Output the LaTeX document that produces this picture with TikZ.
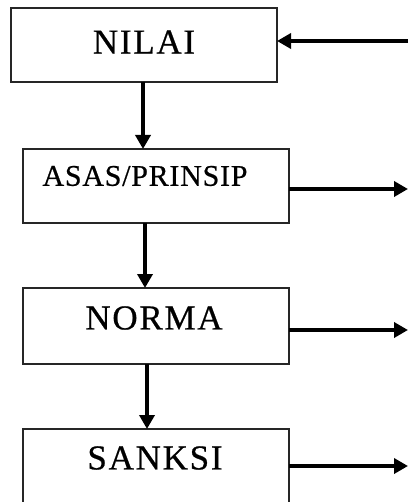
\documentclass[tikz,border=0pt]{standalone}
\usepackage{fontspec}
\setmainfont{Liberation Serif}
\usetikzlibrary{arrows.meta}
\begin{document}
\begin{tikzpicture}[x=1pt,y=-1pt,
  box/.style={draw=black!85,line width=1.1pt,minimum width=266pt,inner sep=0pt,outer sep=0pt},
  lbl/.style={inner sep=0pt,font=\fontsize{35}{37}\selectfont\addfontfeature{LetterSpace=5,FakeBold=0.6}},
  conn/.style={line width=3.6pt,-{Triangle[length=14pt,width=15pt]}}]
\useasboundingbox (0,0) rectangle (408,502);
\clip (0,0) rectangle (408,502);
\node[box,minimum height=74pt,anchor=north west] (nilai) at (11,8) {};
\node[box,minimum height=74pt,anchor=north west] (asas) at (23,149) {};
\node[box,minimum height=76pt,anchor=north west] (norma) at (23,288) {};
\node[box,minimum height=90pt,anchor=north west] (sanksi) at (23,429) {};
\node[lbl] (tnilai) at (144,42) {NILAI};
\node[lbl,font=\fontsize{30}{32}\selectfont\addfontfeature{LetterSpace=2.5,FakeBold=0.6}] (tasas) at (145,176) {ASAS/PRINSIP};
\node[lbl] (tnorma) at (154,318) {NORMA};
\node[lbl] (tsanksi) at (155,458) {SANKSI};
\coordinate (in) at (408,41);
\coordinate (o1) at (408,189);
\coordinate (o2) at (408,330);
\coordinate (o3) at (408,466);
\draw[conn] (in) -- (in -| nilai.east);
\draw[conn] ([xshift=-1pt]nilai.south) -- ([xshift=-1pt]nilai.south |- asas.north);
\draw[conn] ([xshift=-11pt]asas.south) -- ([xshift=-11pt]asas.south |- norma.north);
\draw[conn] ([xshift=-9pt]norma.south) -- ([xshift=-9pt]norma.south |- sanksi.north);
\draw[conn] (o1 -| asas.east) -- (o1);
\draw[conn] (o2 -| norma.east) -- (o2);
\draw[conn] (o3 -| sanksi.east) -- (o3);
\end{tikzpicture}
\end{document}
